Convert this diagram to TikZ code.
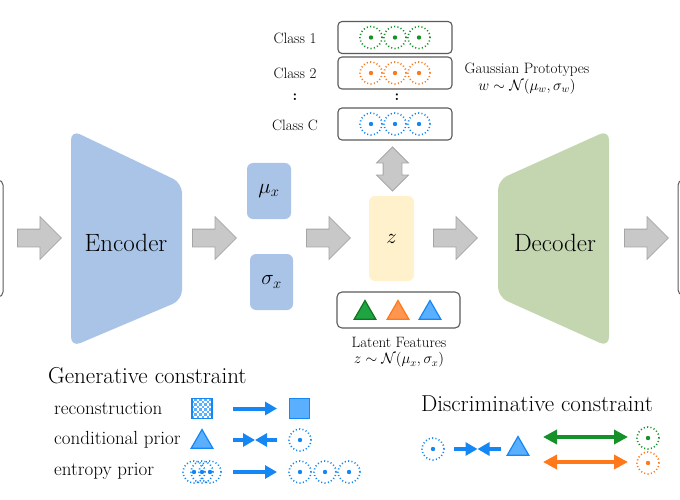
\RequirePackage{fix-cm}
\documentclass[tikz,border=0pt]{standalone}
\usepackage{fontspec}
\usepackage{amsmath,amssymb}
\usepackage{xcolor}
\usetikzlibrary{shapes,arrows,positioning,calc,arrows.meta}

\definecolor{encblue}{RGB}{169,196,230}
\definecolor{decgreen}{RGB}{195,214,176}
\definecolor{zyellow}{RGB}{255,241,204}
\definecolor{arrgray}{RGB}{200,200,200}
\definecolor{arredge}{RGB}{165,165,165}
\definecolor{boxedge}{RGB}{90,90,90}
\definecolor{pblue}{RGB}{20,135,245}
\definecolor{pbluefill}{RGB}{90,175,255}
\definecolor{pgreen}{RGB}{20,145,40}
\definecolor{pgreenfill}{RGB}{30,165,65}
\definecolor{porange}{RGB}{255,120,25}
\definecolor{porangefill}{RGB}{255,150,80}

\tikzset{
  blockarrow/.style={single arrow, draw=arredge, fill=arrgray, line width=0.8pt, anchor=tail,
    minimum height=44pt, inner xsep=0pt, inner ysep=8.5pt, single arrow head extend=12.5pt},
  featbox/.style={draw=boxedge, line width=1.1pt, rounded corners=4pt,
    minimum width=114pt, minimum height=32pt, inner sep=0pt},
  latbox/.style={rounded corners=6pt, fill=#1, inner sep=0pt},
  proto/.style={circle, draw=#1, line width=1.6pt, dash pattern=on 1.1pt off 2.3pt,
    minimum size=22pt, inner sep=0pt,
    path picture={\fill[#1] (path picture bounding box.center) circle (2.2pt);}},
  tri/.style 2 args={regular polygon, regular polygon sides=3, draw=#1, fill=#2,
    line width=1.2pt, inner sep=0pt, minimum size=25pt},
  lbl/.style={font=\fontsize{15}{17}\selectfont, inner sep=0pt},
  rowlbl/.style={font=\fontsize{19}{22}\selectfont, inner sep=0pt, anchor=west},
  headlbl/.style={font=\fontsize{23}{26}\selectfont, inner sep=0pt},
  icarrow/.style={line width=4pt, -{Triangle[length=12pt,width=13pt]}},
  icarrows/.style={line width=4pt, {Triangle[length=14pt,width=14pt]}-{Triangle[length=14pt,width=14pt]}}
}

\begin{document}
\begin{tikzpicture}[x=1pt,y=-1pt]
    \clip (0,0) rectangle (680,500);

    % Input and output images (cut off at the edges)
    \node[draw=boxedge, line width=1pt, rounded corners=5pt, minimum width=40pt, minimum height=117pt] (inImg) at (-17,238.5) {};
    \node[draw=boxedge, line width=1pt, rounded corners=5pt, minimum width=40pt, minimum height=115pt] (outImg) at (698,237.5) {};

    % Encoder and decoder
    \fill[encblue, rounded corners=10pt] (71,130) -- (182,183) -- (182,300) -- (71,347) -- cycle;
    \node[font=\fontsize{25}{28}\selectfont] (enc) at (126,243) {Encoder};
    \fill[decgreen, rounded corners=10pt] (609,130) -- (498,180) -- (498,297) -- (609,347) -- cycle;
    \node[font=\fontsize{25}{28}\selectfont] (dec) at (555,243) {Decoder};

    % Latent variables
    \node[latbox=encblue, minimum width=44pt, minimum height=56pt, font=\fontsize{21}{23}\selectfont] (mu) at (269,191) {$\mu_x$};
    \node[latbox=encblue, minimum width=43pt, minimum height=56pt, font=\fontsize{21}{23}\selectfont] (sigma) at (271.5,282) {$\sigma_x$};
    \node[latbox=zyellow, minimum width=45pt, minimum height=85pt, font=\fontsize{21}{23}\selectfont] (z) at (391.5,238.5) {$z$};

    % Block arrows
    \node[blockarrow] (arrA) at (17,238) {};
    \node[blockarrow] (arrB) at (192,238) {};
    \node[blockarrow] (arrC) at (306,238) {};
    \node[blockarrow] (arrD) at (433,238) {};
    \node[blockarrow] (arrE) at (624,238) {};
    \node[double arrow, rotate=90, draw=arredge, fill=arrgray, line width=0.8pt, minimum height=44pt,
          inner xsep=0pt, inner ysep=9pt, double arrow head extend=6.5pt] (arrZ) at (392.5,169) {};

    % Gaussian prototypes
    \node[featbox] (cls1) at (395,37.5) {};
    \node[featbox] (cls2) at (395,73) {};
    \node[featbox] (clsC) at (395,124) {};
    \foreach \cx in {371,395,419} {
        \node[proto=pgreen] at (\cx,37.5) {};
        \node[proto=porange] at (\cx,73) {};
        \node[proto=pblue] at (\cx,124) {};
    }
    \node[lbl] (lblA) at (295,38) {Class 1};
    \node[lbl] (lblB) at (295,73) {Class 2};
    \node[lbl] (dotsA) at (295,97) {\textbf{:}};
    \node[lbl] (dotsB) at (397,97) {\textbf{:}};
    \node[lbl] (lblC) at (295,125) {Class C};
    \node[lbl] (protoA) at (527,70) {Gaussian Prototypes};
    \node[lbl] (protoB) at (527,87) {$w \sim \mathcal{N}(\mu_w, \sigma_w)$};

    % Latent features
    \node[draw=boxedge, line width=1.1pt, rounded corners=5pt, minimum width=123pt, minimum height=36pt] (latent) at (398.5,310) {};
    \node[tri={pgreen!80!black}{pgreenfill}] (triG) at (365,313) {};
    \node[tri={porange}{porangefill}] (triO) at (398,313) {};
    \node[tri={pblue}{pbluefill}] (triB) at (430,313) {};
    \node[lbl] (latA) at (399,342) {Latent Features};
    \node[lbl] (latB) at (399,360) {$z \sim \mathcal{N}(\mu_x, \sigma_x)$};

    % Generative constraint
    \node[headlbl, anchor=west] (gen) at (48,376) {Generative constraint};
    \node[rowlbl] (rowA) at (54,408) {reconstruction};
    \node[rowlbl] (rowB) at (54,440) {conditional prior};
    \node[rowlbl] (rowC) at (54,471) {entropy prior};

    % reconstruction
    \node[minimum size=20pt, inner sep=0pt] (recA) at (202,408.5) {};
    \fill[pbluefill] (recA.south west) rectangle (recA.north east);
    \foreach \i in {0,...,7} \foreach \j in {0,...,7} {
        \pgfmathtruncatemacro\k{mod(\i+\j,2)}
        \ifnum\k=0 \fill[white] ($(recA.north west)+(\i*2.5,\j*2.5)$) rectangle +(2.5,2.5); \fi
    }
    \draw[pblue, line width=1.5pt] (recA.south west) rectangle (recA.north east);
    \node[draw=pblue, fill=pbluefill, line width=1.5pt, minimum size=20pt, inner sep=0pt] (recB) at (299.5,408.5) {};
    \coordinate (recS) at (233,408.5);
    \coordinate (recE) at (277,408.5);
    \draw[pblue, icarrow] (recS) -- (recE);

    % conditional prior
    \node[tri={pblue}{pbluefill}] (cpA) at (202,442) {};
    \node[proto=pblue] (cpB) at (300,440) {};
    \coordinate (cpL) at (233,440);
    \coordinate (cpM) at (255,440);
    \coordinate (cpR) at (277,440);
    \draw[pblue, icarrow] (cpL) -- (cpM);
    \draw[pblue, icarrow] (cpR) -- (cpM);

    % entropy prior
    \node[proto=pblue] (entA) at (194,472) {};
    \node[proto=pblue] (entB) at (202,472) {};
    \node[proto=pblue] (entC) at (210,472) {};
    \node[proto=pblue] (entD) at (300,472) {};
    \node[proto=pblue] (entE) at (325,472) {};
    \node[proto=pblue] (entF) at (349,472) {};
    \coordinate (entS) at (233,472);
    \coordinate (entT) at (277,472);
    \draw[pblue, icarrow] (entS) -- (entT);

    % Discriminative constraint
    \node[headlbl] (disc) at (537,404) {Discriminative constraint};
    \node[proto=pblue] (dcA) at (433,449) {};
    \coordinate (dcL) at (454,449);
    \coordinate (dcM) at (477.5,449);
    \coordinate (dcR) at (501,449);
    \draw[pblue, icarrow] (dcL) -- (dcM);
    \draw[pblue, icarrow] (dcR) -- (dcM);
    \node[tri={pblue}{pbluefill}] (dcT) at (518,449) {};
    \node[proto=pgreen] (dcG) at (648,438) {};
    \node[proto=porange] (dcO) at (648,463) {};
    \coordinate (dgL) at (543,437);
    \coordinate (dgR) at (628,437);
    \coordinate (doL) at (543,462);
    \coordinate (doR) at (628,462);
    \draw[pgreen, icarrows] (dgL) -- (dgR);
    \draw[porange, icarrows] (doL) -- (doR);
\end{tikzpicture}
\end{document}
